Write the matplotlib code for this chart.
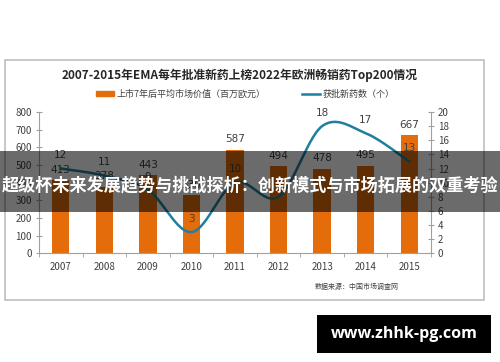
import numpy as np
import matplotlib
matplotlib.use("Agg")
import matplotlib.pyplot as plt
from matplotlib.patches import Rectangle
from matplotlib.lines import Line2D

plt.rcParams["font.family"] = ["Noto Sans CJK SC", "DejaVu Sans"]

YEARS      = ["2007", "2008", "2009", "2010", "2011", "2012", "2013", "2014", "2015"]
MKT_VALUE  = [413, 378, 443, 330, 587, 494, 478, 495, 667]   # 百万欧元
NEW_DRUGS  = [12, 11, 9, 3, 10, 8, 18, 17, 13]                # 个

TITLE   = "2007-2015年EMA每年批准新药上榜2022年欧洲畅销药Top200情况"
LEG_BAR = "上市7年后平均市场价值（百万欧元）"
LEG_LN  = "获批新药数（个）"
SOURCE  = "数据来源：中国市场调查网"
BANNER  = "超级杯未来发展趋势与挑战探析：创新模式与市场拓展的双重考验"
SITE    = "www.zhhk-pg.com"

ORANGE = "#E46C0A"
TEAL   = "#1F7F9E"
GREY   = "#404040"

W, H = 500, 362


def px(x, y, w=0, h=0):
    # pixel box (top-left origin) -> figure fraction
    return [x / W, 1 - (y + h) / H, w / W, h / H]


def smooth(xs, ys, n=30):
    # Catmull-Rom style smoothing like a spreadsheet "smoothed line"
    xs = np.asarray(xs, float); ys = np.asarray(ys, float)
    px_, py_ = [], []
    for i in range(len(xs) - 1):
        p0 = (xs[max(i - 1, 0)], ys[max(i - 1, 0)])
        p1 = (xs[i], ys[i]); p2 = (xs[i + 1], ys[i + 1])
        p3 = (xs[min(i + 2, len(xs) - 1)], ys[min(i + 2, len(xs) - 1)])
        c1 = (p1[0] + (p2[0] - p0[0]) / 6, p1[1] + (p2[1] - p0[1]) / 6)
        c2 = (p2[0] - (p3[0] - p1[0]) / 6, p2[1] - (p3[1] - p1[1]) / 6)
        t = np.linspace(0, 1, n)
        bx = (1-t)**3*p1[0] + 3*(1-t)**2*t*c1[0] + 3*(1-t)*t**2*c2[0] + t**3*p2[0]
        by = (1-t)**3*p1[1] + 3*(1-t)**2*t*c1[1] + 3*(1-t)*t**2*c2[1] + t**3*p2[1]
        px_.extend(bx); py_.extend(by)
    return np.array(px_), np.array(py_)


fig = plt.figure(figsize=(5, 3.62), dpi=100)
fig.patch.set_facecolor("white")

# chart frame
fig.patches.append(Rectangle((5 / W, 1 - 300 / H), 479 / W, 240 / H,
                             transform=fig.transFigure, fill=False,
                             edgecolor="#BFBFBF", lw=1.2, zorder=0))

ax = fig.add_axes(px(39, 112, 392, 141.3))
x = np.arange(len(YEARS))
ax.bar(x, MKT_VALUE, width=0.4, color=ORANGE, zorder=2)
ax.set_xlim(-0.5, len(YEARS) - 0.5)
ax.set_ylim(0, 800)
ax.set_yticks(range(0, 801, 100))
ax.set_xticks(x)
ax.set_xticklabels(YEARS)
ax.set_xticks(np.arange(-0.5, len(YEARS), 1), minor=True)
ax.tick_params(axis="x", which="major", length=0, pad=6, labelsize=7, labelcolor=GREY)
ax.tick_params(axis="x", which="minor", length=3, color="#A0A0A0", direction="out")
ax.tick_params(axis="y", length=4, direction="inout", color="#A0A0A0",
               labelsize=7, labelcolor=GREY, pad=3)
for s in ["top", "right"]:
    ax.spines[s].set_visible(False)
for s in ["left", "bottom"]:
    ax.spines[s].set_color("#A0A0A0")
for xi, v in zip(x, MKT_VALUE):
    ax.annotate(str(v), (xi, v), xytext=(0, 7.5), textcoords="offset points",
                ha="center", va="center", fontsize=7.5, color=GREY,
                family=["DejaVu Sans"])

ax2 = ax.twinx()
ax2.set_ylim(0, 20)
ax2.set_yticks(range(0, 21, 2))
sx, sy = smooth(x, NEW_DRUGS)
ax2.plot(sx, sy, color=TEAL, lw=1.8, zorder=3)
ax2.tick_params(axis="y", length=4, direction="inout", color="#A0A0A0",
                labelsize=7, labelcolor=GREY, pad=3)
for s in ["top", "left", "bottom"]:
    ax2.spines[s].set_visible(False)
ax2.spines["right"].set_color("#A0A0A0")
for xi, v in zip(x, NEW_DRUGS):
    ax2.annotate(str(v), (xi, v), xytext=(0, 9.5), textcoords="offset points",
                 ha="center", va="center", fontsize=7.5, color=GREY,
                 family=["DejaVu Sans"])

# title, legend, source
fig.text(240 / W, 1 - 75 / H, TITLE, ha="center", va="center",
         fontsize=8.5, fontweight="bold", color="#262626")
handles = [Rectangle((0, 0), 1, 1, color=ORANGE),
           Line2D([0], [0], color=TEAL, lw=1.8)]
fig.legend(handles, [LEG_BAR, LEG_LN], loc="center", ncol=2,
           bbox_to_anchor=(245 / W, 1 - 94 / H), frameon=False,
           fontsize=6.5, handlelength=2.0, handleheight=0.5,
           handletextpad=0.3, columnspacing=4.0,
           labelcolor=GREY)
fig.text(357 / W, 1 - 287 / H, SOURCE, ha="center", va="center",
         fontsize=5, color=GREY)

# dark banner overlay
fig.patches.append(Rectangle((0, 1 - 211.7 / H), 1, 61 / H,
                             transform=fig.transFigure, color="black",
                             alpha=0.58, lw=0, zorder=10))
fig.text(0.5, 1 - 185 / H, BANNER, ha="center", va="center",
         fontsize=12.3, fontweight="bold", color="white", zorder=11)

# site box
fig.patches.append(Rectangle((317 / W, 1 - 353 / H), 174 / W, 38 / H,
                             transform=fig.transFigure, color="black",
                             lw=0, zorder=10))
fig.text(404 / W, 1 - 334 / H, SITE, ha="center", va="center",
         fontsize=11.5, fontweight="bold", color="white", zorder=11,
         family=["Open Sans", "DejaVu Sans"])

fig.savefig("out.png", dpi=100)
